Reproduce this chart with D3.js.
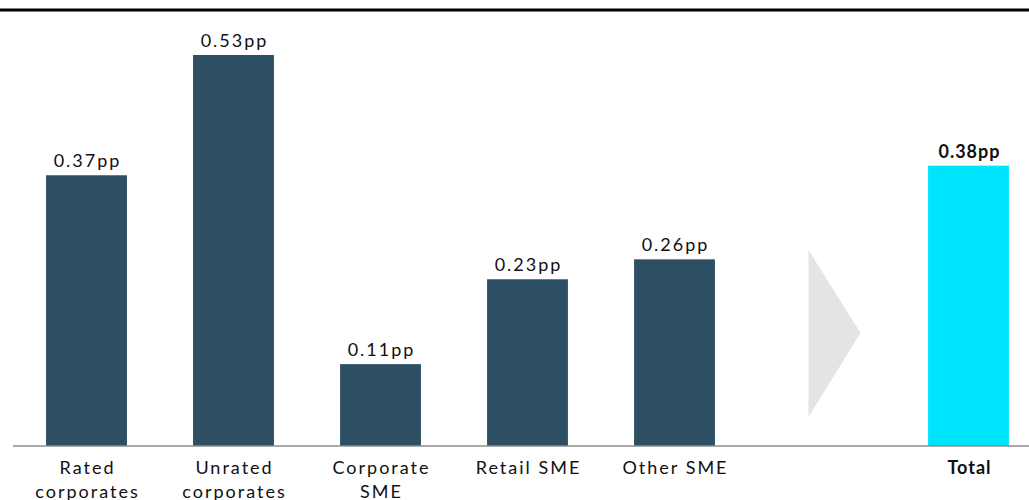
<!DOCTYPE html>
<html>
<head>
<meta charset="utf-8">
<script src="https://cdn.jsdelivr.net/npm/d3@7"></script>
<style>
  body { margin: 0; background: #fff; }
  svg { display: block; font-family: "Lato", "DejaVu Sans", sans-serif; }
</style>
</head>
<body>
<svg id="drawing_region"></svg>
<script>
// data
const categories = ['Rated corporates', 'Unrated corporates', 'Corporate SME', 'Retail SME', 'Other SME', 'arrow', 'Total']
const labelLines = [['Rated', 'corporates'], ['Unrated', 'corporates'], ['Corporate', 'SME'], ['Retail SME'], ['Other SME'], [], ['Total']]
// bar heights; labels as printed
const values = [0.367, 0.53, 0.111, 0.226, 0.253, null, 0.38]
const valueLabels = ['0.37pp', '0.53pp', '0.11pp', '0.23pp', '0.26pp', '', '0.38pp']
const isTotal = [false, false, false, false, false, false, true]

const width = 1029, height = 500
const baseline = 446

const svg = d3.select('#drawing_region').attr('width', width).attr('height', height)

const xscale = d3.scaleBand().domain(categories).range([13, 1042]).paddingInner(0.45).paddingOuter(0.225)
const yscale = d3.scaleLinear().domain([0, 0.53]).range([baseline, 55])

// top rule
svg.append('line').attr('x1', 0).attr('x2', width).attr('y1', 10).attr('y2', 10)
  .attr('stroke', '#000').attr('stroke-width', 3)

const rows = categories.map((c, i) => ({c, v: values[i], lab: valueLabels[i], lines: labelLines[i], total: isTotal[i]}))

svg.selectAll('rect.bar').data(rows.filter(d => d.v !== null)).enter()
  .append('rect').attr('class', 'bar')
  .attr('x', d => xscale(d.c))
  .attr('y', d => yscale(d.v))
  .attr('width', xscale.bandwidth())
  .attr('height', d => baseline - yscale(d.v))
  .attr('fill', d => d.total ? '#00E5FF' : '#2C4F63')

svg.selectAll('text.val').data(rows.filter(d => d.v !== null)).enter()
  .append('text').attr('class', 'val')
  .attr('x', d => xscale(d.c) + xscale.bandwidth() / 2 + (d.total ? 1 : 1))
  .attr('y', d => yscale(d.v) - 8)
  .attr('text-anchor', 'middle')
  .attr('font-size', 18)
  .attr('letter-spacing', d => d.total ? 1 : 2)
  .attr('font-weight', d => d.total ? 'bold' : 'normal')
  .attr('fill', '#111')
  .text(d => d.lab)

// arrow
const ax = xscale('arrow') + xscale.bandwidth() / 2
svg.append('path')
  .attr('d', `M${ax - 13},250 L${ax + 39},333 L${ax - 13},417 Z`)
  .attr('fill', '#E4E4E4')

// x axis
const xaxis = d3.axisBottom(xscale).tickSize(0).tickFormat('')
const xg = svg.append('g').attr('transform', `translate(0,${baseline})`).call(xaxis)
xg.select('.domain').attr('stroke', '#8c8c8c').attr('stroke-width', 1.5)
  .attr('d', `M13,0H${width}`)

const lab = svg.selectAll('text.cat').data(rows).enter()
  .append('text').attr('class', 'cat')
  .attr('x', d => xscale(d.c) + xscale.bandwidth() / 2 + 1)
  .attr('y', 474)
  .attr('text-anchor', 'middle')
  .attr('font-size', 18)
  .attr('letter-spacing', d => d.total ? 1 : 2)
  .attr('font-weight', d => d.total ? 'bold' : 'normal')
  .attr('fill', '#111')
lab.selectAll('tspan').data(d => d.lines).enter()
  .append('tspan')
  .attr('x', function() { return d3.select(this.parentNode).attr('x') })
  .attr('dy', (d, i) => i === 0 ? 0 : 24)
  .text(d => d)
</script>
</body>
</html>
